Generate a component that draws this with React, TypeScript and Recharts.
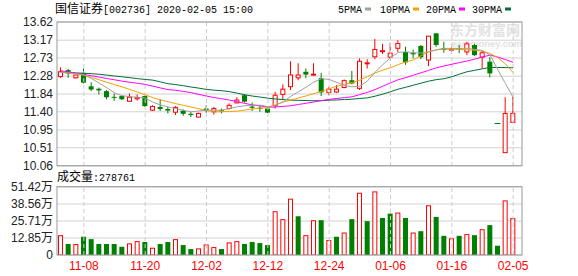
import React from 'react';
import { ComposedChart, Bar, Line, XAxis, YAxis, CartesianGrid, ReferenceLine } from 'recharts';

const dates = [
  '11-05','11-06','11-07','11-08','11-11','11-12','11-13','11-14','11-15','11-18',
  '11-19','11-20','11-21','11-22','11-25','11-26','11-27','11-28','11-29','12-02',
  '12-03','12-04','12-05','12-06','12-09','12-10','12-11','12-12','12-13','12-16',
  '12-17','12-18','12-19','12-20','12-23','12-24','12-25','12-26','12-27','12-30',
  '12-31','01-02','01-03','01-06','01-07','01-08','01-09','01-10','01-13','01-14',
  '01-15','01-16','01-17','01-20','01-21','01-22','01-23','02-03','02-04','02-05',
];
const opens = [
  12.27,12.43,12.24,12.36,12.03,11.97,11.91,11.77,11.79,11.66,
  11.72,11.79,11.44,11.52,11.47,11.39,11.43,11.35,11.27,11.48,
  11.40,11.44,11.48,11.62,11.81,11.53,11.50,11.48,11.55,11.83,
  12.02,12.24,12.39,12.31,12.23,11.88,11.89,12.00,12.18,11.98,
  12.59,12.76,12.89,12.75,12.97,12.88,12.85,13.03,12.68,13.34,
  12.97,12.94,12.97,12.88,13.05,12.75,12.64,11.11,10.39,11.14,
];
const highs = [
  12.50,12.46,12.34,12.47,12.13,12.00,11.94,11.85,11.81,11.85,
  11.83,11.80,11.56,11.71,11.52,11.54,11.46,11.40,11.38,11.56,
  11.52,11.48,11.61,11.76,11.83,11.63,11.56,11.50,11.89,12.08,
  12.65,12.60,12.47,12.60,12.36,12.02,12.06,12.20,12.41,12.72,
  12.70,13.20,13.08,13.11,13.17,13.01,12.94,13.05,13.27,13.34,
  13.13,12.99,13.05,13.13,13.08,12.91,12.75,11.11,11.76,11.77,
];
const lows = [
  12.24,12.24,12.22,12.10,11.91,11.83,11.71,11.67,11.69,11.65,
  11.68,11.52,11.42,11.42,11.36,11.32,11.30,11.27,11.26,11.38,
  11.33,11.36,11.46,11.61,11.63,11.42,11.40,11.37,11.48,11.71,
  11.94,12.18,12.23,12.30,11.79,11.81,11.87,11.98,12.08,11.94,
  12.47,12.70,12.83,12.70,12.88,12.56,12.72,12.70,12.53,13.01,
  12.86,12.88,12.85,12.80,12.78,12.47,12.25,11.11,10.39,11.14,
];
const closes = [
  12.39,12.35,12.31,12.12,11.95,11.93,11.76,11.75,11.71,11.76,
  11.75,11.54,11.53,11.47,11.43,11.51,11.35,11.32,11.36,11.44,
  11.48,11.42,11.56,11.69,11.65,11.50,11.47,11.38,11.81,11.96,
  12.31,12.31,12.32,12.33,11.88,11.96,11.96,12.17,12.10,12.65,
  12.61,12.94,12.91,12.85,13.09,12.62,12.82,12.75,13.27,13.05,
  12.93,12.95,12.93,13.08,12.80,12.86,12.35,11.11,11.36,11.36,
];
// volume in 万
const volumes = [
  15.0,8.3,8.3,13.8,12.0,8.3,8.3,8.3,6.2,8.8,
  10.5,9.8,5.5,8.3,9.8,12.0,7.5,4.5,5.0,8.0,
  6.0,4.5,9.5,10.5,8.3,9.8,9.0,7.5,33.1,27.1,
  42.6,29.3,15.0,26.3,26.3,11.3,13.8,17.0,27.1,47.1,
  25.6,48.1,28.0,31.3,32.1,28.0,17.0,18.0,37.6,28.8,
  14.5,12.6,14.5,15.8,15.0,19.5,22.6,7.0,41.3,27.88,
];
const volUp = [
  1,0,1,0,0,0,0,0,0,1,
  1,0,1,0,0,1,0,0,1,1,
  1,0,1,1,0,0,0,0,1,1,
  1,0,1,1,0,1,0,1,0,1,
  0,1,0,0,1,0,1,0,1,0,
  0,1,0,1,0,1,0,0,1,1,
];
const ma5 = [
  12.374,12.361,12.337,12.310,12.225,12.109,11.995,11.866,11.799,11.774,
  11.760,11.742,11.638,11.569,11.522,11.477,11.435,11.400,11.420,11.440,
  11.440,11.440,11.480,11.524,11.549,11.564,11.564,11.529,11.554,11.651,
  11.782,11.898,12.010,12.134,12.220,12.200,12.126,12.052,12.017,12.032,
  12.163,12.381,12.567,12.736,12.867,12.882,12.862,12.852,12.887,12.934,
  12.968,12.968,12.968,12.968,12.944,12.914,12.802,12.438,12.096,11.755,
];
const ma10 = [
  12.381,12.357,12.334,12.310,12.252,12.191,12.129,12.072,12.015,11.953,
  11.888,11.821,11.750,11.695,11.648,11.601,11.559,11.517,11.475,11.432,
  11.398,11.403,11.410,11.415,11.442,11.470,11.489,11.502,11.576,11.638,
  11.688,11.742,11.792,11.849,11.906,11.970,12.034,12.079,12.124,12.183,
  12.270,12.361,12.431,12.490,12.567,12.634,12.684,12.790,12.882,12.931,
  12.951,12.946,12.939,12.934,12.921,12.902,12.840,12.741,12.580,12.369,
];
const ma20 = [
  12.414,12.384,12.352,12.322,12.292,12.257,12.223,12.191,12.158,12.131,
  12.104,12.077,12.034,11.990,11.948,11.933,11.903,11.873,11.831,11.789,
  11.752,11.722,11.690,11.650,11.608,11.571,11.544,11.514,11.519,11.534,
  11.549,11.581,11.611,11.643,11.678,11.707,11.730,11.750,11.772,11.826,
  11.881,11.950,12.034,12.114,12.193,12.245,12.307,12.366,12.426,12.488,
  12.532,12.575,12.617,12.656,12.703,12.755,12.802,12.753,12.691,12.622,
];
const ma30 = [
  12.374,12.369,12.361,12.354,12.342,12.327,12.307,12.285,12.265,12.243,
  12.220,12.200,12.183,12.139,12.094,12.072,12.044,12.012,11.985,11.953,
  11.935,11.921,11.898,11.861,11.821,11.789,11.764,11.737,11.717,11.703,
  11.688,11.683,11.678,11.673,11.675,11.688,11.693,11.703,11.712,11.730,
  11.745,11.787,11.836,11.898,11.960,12.007,12.059,12.109,12.158,12.196,
  12.218,12.265,12.332,12.391,12.426,12.463,12.498,12.495,12.493,12.488,
];
const priceTicks = [10.06, 10.51, 10.95, 11.40, 11.84, 12.28, 12.73, 13.17, 13.62];
const volTicks = [0, 12.85, 25.71, 38.56, 51.42];
const dateTicks = ['11-08', '11-20', '12-02', '12-12', '12-24', '01-06', '01-16', '02-05'];
const legendItems = [
  { name: '5PMA', color: '#a0a0a0' },
  { name: '10PMA', color: '#f5a000' },
  { name: '20PMA', color: '#ff00ff' },
  { name: '30PMA', color: '#006f35' },
];

const RED = '#ff0000';
const GREEN = '#008000';
const FONT = "'Liberation Sans', Arial, 'Noto Sans CJK SC', sans-serif";
const MONO = "'Liberation Mono', 'DejaVu Sans Mono', monospace";
const CJK = "'Noto Sans CJK SC', sans-serif";

const rows = dates.map((d, i) => {
  const o = opens[i];
  const c = closes[i];
  const prev = i > 0 ? closes[i - 1] : c;
  const up = c > o || (c === o && c >= prev);
  return {
    date: d,
    open: o,
    high: highs[i],
    low: lows[i],
    close: c,
    range: [lows[i], highs[i]],
    up,
    vol: volumes[i],
    volUp: volUp[i] === 1,
    ma5: ma5[i],
    ma10: ma10[i],
    ma20: ma20[i],
    ma30: ma30[i],
  };
});

const Candle = (props: any) => {
  const { x, y, width, height, payload } = props;
  if (x == null || y == null || !payload) return null;
  const { open, close, high, low, up } = payload;
  const color = up ? RED : GREEN;
  const cx = x + width / 2;
  const top = Math.min(y, y + (height || 0));
  const h = Math.abs(height || 0);
  const span = high - low;
  if (span <= 0 || h === 0) {
    return <line x1={cx - 3} x2={cx + 3} y1={top} y2={top} stroke={color} strokeWidth={1} />;
  }
  const k = h / span;
  const yOf = (v: number) => top + (high - v) * k;
  const bTop = yOf(Math.max(open, close));
  const bBot = yOf(Math.min(open, close));
  const bh = Math.max(bBot - bTop, 1);
  return (
    <g>
      <line x1={cx} x2={cx} y1={top} y2={top + h} stroke={color} strokeWidth={1} />
      {up ? (
        <rect x={cx - 2} y={bTop} width={4} height={bh} fill="#fff" stroke={color} strokeWidth={1} />
      ) : (
        <rect x={cx - 2.5} y={bTop} width={5} height={bh} fill={color} />
      )}
    </g>
  );
};

const VolBar = (props: any) => {
  const { x, y, width, height, payload } = props;
  if (x == null || y == null || !payload) return null;
  const top = Math.min(y, y + (height || 0));
  const h = Math.abs(height || 0);
  const cx = x + width / 2;
  if (payload.volUp) {
    return <rect x={cx - 2} y={top + 0.5} width={4} height={Math.max(h - 0.5, 0)} fill="#fff" stroke={RED} strokeWidth={1} />;
  }
  return <rect x={cx - 2.5} y={top} width={5} height={h} fill={GREEN} />;
};

export default function App() {
  return (
    <div style={{ position: 'absolute', left: 0, top: 0, width: 578, height: 276, background: '#fff', overflow: 'hidden' }}>
      <svg width={578} height={276} style={{ position: 'absolute', left: 0, top: 0 }}>
        <text x={450} y={35} fontSize={14} fontWeight="bold" fill="#e2e2e2" fontFamily={CJK}>东方财富网</text>
        <text x={451} y={47} fontSize={9.5} fontWeight="bold" fill="#e2e2e2" fontFamily={FONT}>eastmoney.com</text>
      </svg>
      <div style={{ position: 'absolute', left: 0, top: 0 }}>
        <ComposedChart width={578} height={178} data={rows} margin={{ top: 22, right: 56, bottom: 12, left: 0 }} barSize={5}>
          <CartesianGrid vertical={false} stroke="#d2d2d2" />
          <XAxis dataKey="date" hide padding={{ left: 0, right: 5 }} />
          <YAxis
            domain={[10.06, 13.62]}
            ticks={priceTicks}
            interval={0}
            allowDataOverflow
            width={57}
            tickLine={false}
            axisLine={false}
            tickSize={2}
            tickMargin={2}
            tick={{ fontSize: 12, fill: '#222', fontFamily: FONT }}
            tickFormatter={(v: number) => v.toFixed(2)}
          />
          {dateTicks.map((d) => (
            <ReferenceLine key={d} x={d} stroke="#cccccc" strokeDasharray="4 3" />
          ))}
          <Bar dataKey="range" isAnimationActive={false} shape={(p: any) => <Candle {...p} />} />
          <Line dataKey="ma30" stroke="#006f35" strokeWidth={1} dot={false} activeDot={false} isAnimationActive={false} />
          <Line dataKey="ma20" stroke="#ff00ff" strokeWidth={1} dot={false} activeDot={false} isAnimationActive={false} />
          <Line dataKey="ma10" stroke="#f5a000" strokeWidth={1} dot={false} activeDot={false} isAnimationActive={false} />
          <Line dataKey="ma5" stroke="#a0a0a0" strokeWidth={1} dot={false} activeDot={false} isAnimationActive={false} />
        </ComposedChart>
      </div>
      <div style={{ position: 'absolute', left: 0, top: 172 }}>
        <ComposedChart width={578} height={104} data={rows} margin={{ top: 15, right: 56, bottom: 0, left: 0 }} barSize={5}>
          <CartesianGrid vertical={false} stroke="#d2d2d2" />
          <XAxis
            dataKey="date"
            interval={0}
            height={21}
            tickLine={false}
            axisLine={false}
            tickSize={4}
            tickMargin={2}
            padding={{ left: 0, right: 5 }}
            tick={{ fontSize: 12, fill: RED, fontFamily: FONT }}
            tickFormatter={(v: string) => (dateTicks.includes(v) ? v : '')}
          />
          <YAxis
            domain={[0, 51.42]}
            ticks={volTicks}
            interval={0}
            allowDataOverflow
            width={57}
            tickLine={false}
            axisLine={false}
            tickSize={2}
            tickMargin={2}
            tick={{ fontSize: 12, fill: '#222', fontFamily: FONT }}
            tickFormatter={(v: number) => (v === 0 ? '0' : v.toFixed(2) + '万')}
          />
          {dateTicks.map((d) => (
            <ReferenceLine key={d} x={d} stroke="#cccccc" strokeDasharray="4 3" />
          ))}
          <Bar dataKey="vol" isAnimationActive={false} shape={(p: any) => <VolBar {...p} />} />
        </ComposedChart>
      </div>
      <svg width={578} height={276} style={{ position: 'absolute', left: 0, top: 0, pointerEvents: 'none' }}>
        <rect x={57} y={22} width={465} height={143.7} fill="none" stroke="#999" strokeWidth={1} />
        <rect x={57} y={186.7} width={465} height={68.3} fill="none" stroke="#999" strokeWidth={1} />
        <text x={55} y={13} fontSize={12} fill="#000" fontFamily={CJK}>
          国信证券
          <tspan fontFamily={MONO} fontSize={10}>[002736] 2020-02-05 15:00</tspan>
        </text>
        <text x={57} y={181} fontSize={12} fill="#000" fontFamily={CJK}>
          成交量
          <tspan fontFamily={MONO} fontSize={10}>:278761</tspan>
        </text>
        {legendItems.map((it, i) => {
          const starts = [338, 380, 426, 472];
          const w = it.name.length * 6;
          return (
            <g key={it.name}>
              <text x={starts[i]} y={13} fontSize={10} fill="#000" fontFamily={MONO}>{it.name}</text>
              <rect x={starts[i] + w + 3} y={7.5} width={6} height={3} fill={it.color} />
            </g>
          );
        })}
      </svg>
    </div>
  );
}
